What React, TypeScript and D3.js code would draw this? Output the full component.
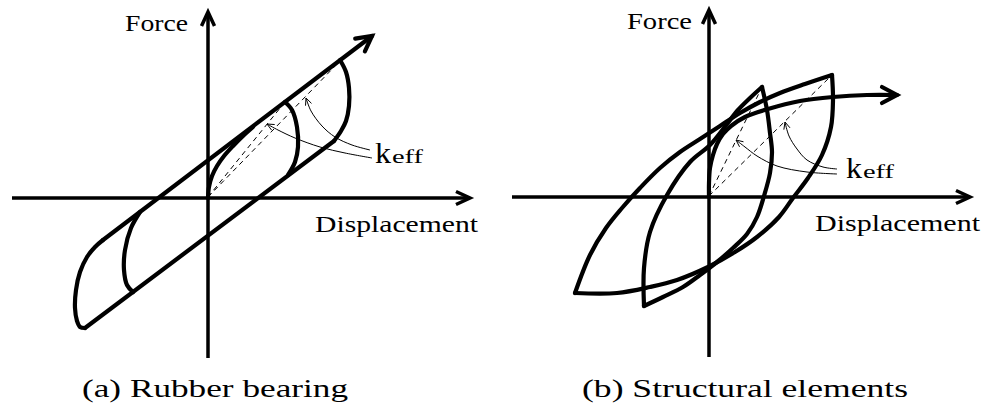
import React from "react";
import * as d3 from "d3";

type P = [number, number];

// ---------- Panel (a): Rubber bearing (units: displacement, force) ----------
const aAxisX: P[] = [[-19.6, 0], [26.2, 0]];
const aAxisY: P[] = [[0, -16], [0, 18.6]];
const aUpperLine: P[] = [[-10.5, -4.2], [16.4, 16.2]];
const aLowerLine: P[] = [[-12.3, -13.0], [12.6, 5.7]];
const aOuterRight: P[] = [[13.2, 13.8], [13.8, 12.6], [14.1, 11.0], [14.1, 9.2], [13.8, 7.7], [13.3, 6.7], [12.6, 5.7]];
const aOuterLeft: P[] = [[-10.5, -4.2], [-11.3, -4.9], [-12.1, -5.9], [-12.8, -7.4], [-13.2, -9.2], [-13.3, -11.0], [-13.1, -12.3], [-12.8, -12.9], [-12.3, -13.0]];
const aInnerRight: P[] = [[7.7, 9.6], [8.4, 8.8], [8.9, 7.1], [9.0, 5.1], [8.7, 3.6], [8.0, 2.3]];
const aInnerLeft: P[] = [[-6.8, -1.4], [-7.7, -3.0], [-8.3, -5.2], [-8.4, -7.2], [-8.1, -8.7], [-7.5, -9.4]];
const aInitial: P[] = [[0, 0], [0.1, 1.1], [0.4, 2.2], [0.9, 3.2], [1.6, 4.2], [2.5, 5.2], [3.5, 6.2], [4.5, 7.1]];
const aSecants: P[][] = [[[0, 0.1], [7.7, 9.6]], [[0, 0.1], [13.2, 13.7]]];
const aPointers: P[][] = [
  [[16.4, 4.0], [13.7, 4.5], [11.2, 5.1], [8.7, 6.0], [7.0, 6.8], [5.9, 7.4]],
  [[16.2, 4.8], [14.4, 5.3], [12.7, 6.1], [11.4, 7.2], [10.3, 8.7], [9.8, 10.0]],
];

// ---------- Panel (b): Structural elements ----------
const bAxisX: P[] = [[-19.7, 0], [26.1, 0]];
const bAxisY: P[] = [[0, -16], [0, 18.7]];
const bBackbone: P[] = [[0, 0], [0, 1.4], [0.1, 2.9], [0.4, 4.2], [0.8, 5.3], [1.4, 6.3], [2.2, 7.1], [3.6, 8.0], [5.9, 8.8], [9.1, 9.6], [12.4, 10.0], [15.8, 10.2], [18.8, 10.2]];
const bBigUpper: P[] = [[-13.4, -9.6], [-11.9, -5.8], [-10.3, -3.1], [-8.7, -1.1], [-6.9, 0.9], [-4.9, 2.9], [-2.9, 4.5], [-0.9, 5.8], [1.1, 7.1], [3.1, 8.4], [5.1, 9.5], [7.1, 10.4], [9.6, 11.3], [12.3, 12.2]];
const bBigLower: P[] = [[12.3, 12.2], [12.4, 9.7], [12.2, 7.0], [11.3, 4.2], [9.9, 1.9], [8.4, -0.1], [7.0, -2.0], [4.8, -4.0], [2.6, -5.5], [-0.1, -7.0], [-3.2, -8.3], [-5.9, -9.0], [-9.2, -9.6], [-13.4, -9.6]];
const bSmallLeft: P[] = [[-6.5, -10.9], [-6.5, -7.1], [-5.9, -3.5], [-4.2, 0.2], [-1.9, 3.5], [0.1, 5.2], [1.8, 7.3], [2.9, 8.7], [4.1, 9.9], [5.3, 11.0]];
const bSmallRight: P[] = [[5.3, 11.0], [5.8, 8.7], [6.1, 6.4], [6.3, 4.5], [6.1, 2.4], [5.5, 0.1], [4.8, -2.0], [3.8, -3.7], [2.4, -5.1], [0.8, -6.5], [-0.9, -7.8], [-2.6, -9.0], [-4.6, -10.0], [-6.5, -10.9]];
const bSecants: P[][] = [[[0, 0.1], [5.3, 11.0]], [[0, 0.1], [12.3, 12.2]]];
const bPointers: P[][] = [
  [[12.8, 2.3], [9.8, 2.5], [6.8, 3.1], [4.8, 4.1], [3.6, 5.0], [2.7, 5.7]],
  [[12.8, 2.8], [11.4, 3.0], [9.8, 3.7], [8.8, 4.8], [8.0, 6.1], [7.6, 7.5]],
];

const labelForce = "Force";
const labelDisp = "Displacement";
const labelK = "k";
const labelEff = "eff";
const captionA = "(a) Rubber bearing";
const captionB = "(b) Structural elements";

const FONT = "Liberation Serif, Tinos, Times New Roman, Times, DejaVu Serif, serif";

function arrowHead(pts: [number, number][], len: number, half: number): string {
  const [x1, y1] = pts[pts.length - 2];
  const [x2, y2] = pts[pts.length - 1];
  const dx = x2 - x1, dy = y2 - y1;
  const d = Math.hypot(dx, dy) || 1;
  const ux = dx / d, uy = dy / d;
  const px = -uy, py = ux;
  const bx = x2 - ux * len, by = y2 - uy * len;
  return `M${bx + px * half},${by + py * half}L${x2},${y2}L${bx - px * half},${by - py * half}`;
}

function Panel(props: {
  x: d3.ScaleLinear<number, number>;
  y: d3.ScaleLinear<number, number>;
  axisX: P[];
  axisY: P[];
  solidCurves: P[][];
  straight: P[][];
  arrowCurve: P[];
  arrowStraight?: boolean;
  secants: P[][];
  pointers: P[][];
}) {
  const { x, y } = props;
  const toPx = (pts: P[]): [number, number][] => pts.map((p) => [x(p[0]), y(p[1])]);
  const curve = d3.line<[number, number]>().curve(d3.curveCatmullRom.alpha(0.5));
  const lin = d3.line<[number, number]>();
  const ax = toPx(props.axisX);
  const ay = toPx(props.axisY);
  const arrowPx = toPx(props.arrowCurve);
  return (
    <g>
      <path d={lin(ax) || ""} stroke="#000" strokeWidth={3.5} fill="none" />
      <path d={lin(ay) || ""} stroke="#000" strokeWidth={3.5} fill="none" />
      <path d={arrowHead(ax, 14, 6.5)} stroke="#000" strokeWidth={3.5} fill="none" strokeLinejoin="miter" />
      <path d={arrowHead(ay, 14, 6.5)} stroke="#000" strokeWidth={3.5} fill="none" strokeLinejoin="miter" />
      {props.secants.map((s, i) => (
        <path key={"s" + i} d={lin(toPx(s)) || ""} stroke="#000" strokeWidth={1} strokeDasharray="5,4" fill="none" />
      ))}
      {props.straight.map((s, i) => (
        <path key={"l" + i} d={lin(toPx(s)) || ""} stroke="#000" strokeWidth={4.2} fill="none" strokeLinecap="round" strokeLinejoin="round" />
      ))}
      {props.solidCurves.map((s, i) => (
        <path key={"c" + i} d={curve(toPx(s)) || ""} stroke="#000" strokeWidth={4.2} fill="none" strokeLinecap="round" strokeLinejoin="round" />
      ))}
      <path
        d={(props.arrowStraight ? lin(arrowPx) : curve(arrowPx)) || ""}
        stroke="#000"
        strokeWidth={4.2}
        fill="none"
        strokeLinecap="round"
      />
      <path d={arrowHead(arrowPx, 15, 8)} stroke="#000" strokeWidth={4.2} fill="none" strokeLinecap="round" strokeLinejoin="miter" />
      {props.pointers.map((s, i) => {
        const pp = toPx(s);
        return (
          <g key={"p" + i}>
            <path d={curve(pp) || ""} stroke="#000" strokeWidth={1} fill="none" />
            <path d={arrowHead(pp, 7, 3.2)} stroke="#000" strokeWidth={1} fill="none" />
          </g>
        );
      })}
    </g>
  );
}

export default function App() {
  const xA = d3.scaleLinear().domain([-19.6, 26.2]).range([12, 470]);
  const yA = d3.scaleLinear().domain([-16, 18.6]).range([358, 12]);
  const xB = d3.scaleLinear().domain([-19.7, 26.1]).range([512, 970]);
  const yB = d3.scaleLinear().domain([-16, 18.7]).range([357, 10]);

  const t = (x: number, y: number, size: number, len: number | null, s: string) => (
    <text
      x={x}
      y={y}
      fontSize={size}
      fontFamily={FONT}
      fill="#000"
      {...(len ? { textLength: len, lengthAdjust: "spacingAndGlyphs" } : {})}
    >
      {s}
    </text>
  );

  return (
    <svg
      width={985}
      height={411}
      viewBox="0 0 985 411"
      style={{ position: "absolute", left: 0, top: 0, display: "block", background: "#fff" }}
    >
      <rect x={0} y={0} width={985} height={411} fill="#fff" />
      <Panel
        x={xA}
        y={yA}
        axisX={aAxisX}
        axisY={aAxisY}
        straight={[aLowerLine]}
        solidCurves={[aOuterRight, aOuterLeft, aInnerRight, aInnerLeft, aInitial]}
        arrowCurve={aUpperLine}
        arrowStraight={true}
        secants={aSecants}
        pointers={aPointers}
      />
      <Panel
        x={xB}
        y={yB}
        axisX={bAxisX}
        axisY={bAxisY}
        straight={[]}
        solidCurves={[bBigUpper, bBigLower, bSmallLeft, bSmallRight]}
        arrowCurve={bBackbone}
        secants={bSecants}
        pointers={bPointers}
      />
      {t(125, 31, 23, 63, labelForce)}
      {t(315, 232, 23, 163, labelDisp)}
      {t(375, 163, 29, 16, labelK)}
      {t(392, 163, 18, 31, labelEff)}
      {t(82, 397, 26, 266, captionA)}
      {t(627, 29, 23, 65, labelForce)}
      {t(815, 231, 23, 165, labelDisp)}
      {t(846, 178, 29, 16, labelK)}
      {t(863, 178, 18, 31, labelEff)}
      {t(582, 397, 26, 326, captionB)}
    </svg>
  );
}
